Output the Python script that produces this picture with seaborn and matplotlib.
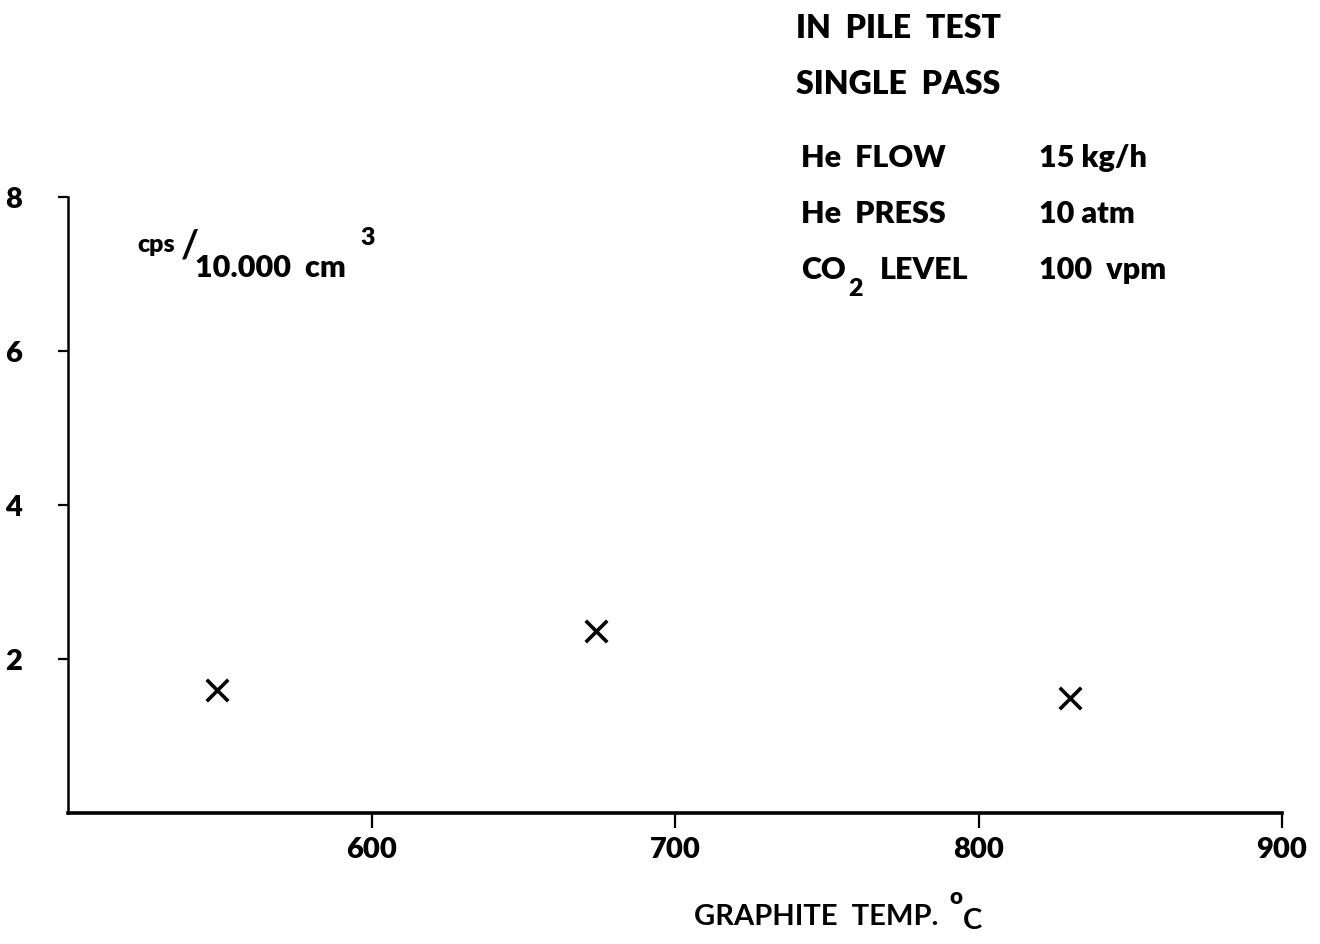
import matplotlib
matplotlib.use('Agg')
import matplotlib.pyplot as plt
import seaborn as sns
import pandas as pd

# values
temp_c = [549, 674, 830]
cps_per_vol = [1.60, 2.37, 1.49]
x_ticks = [600, 700, 800, 900]
y_ticks = [2, 4, 6, 8]

sns.set_style("ticks")
plt.rcParams['font.family'] = ['Lato', 'DejaVu Sans']
plt.rcParams['font.weight'] = 'bold'
plt.rcParams['text.color'] = 'black'

W, H = 1320, 944
fig = plt.figure(figsize=(W / 100, H / 100), dpi=100)
ax = fig.add_axes([68 / W, 1 - 813 / H, (1282 - 68) / W, (813 - 197) / H])

df = pd.DataFrame({"temp": temp_c, "cps": cps_per_vol})
sns.scatterplot(data=df, x="temp", y="cps", marker="x", s=240,
                color="black", linewidth=2.6, ax=ax, legend=False)

ax.set_xlim(500, 900)
ax.set_ylim(0, 8)
ax.set_xticks(x_ticks)
ax.set_yticks(y_ticks)
ax.set_xticklabels([str(v) for v in x_ticks], fontsize=21, fontweight='heavy')
ax.set_yticklabels([str(v) for v in y_ticks], fontsize=21, fontweight='heavy')
ax.tick_params(axis='both', colors='black', labelcolor='black')
ax.tick_params(axis='x', direction='out', length=11, width=1.6, pad=6)
ax.tick_params(axis='y', direction='out', length=7, width=1.6, pad=26)
ax.set_xlabel("")
ax.set_ylabel("")
for side in ["top", "right"]:
    ax.spines[side].set_visible(False)
ax.spines["left"].set_linewidth(1.8)
ax.spines["left"].set_color("black")
ax.spines["bottom"].set_linewidth(2.6)
ax.spines["bottom"].set_color("black")


def ftext(px, py, s, size=22, weight='heavy'):
    fig.text(px / W, 1 - py / H, s, fontsize=size, fontweight=weight,
             va='center', ha='left', color='black')


# unit label inside the plot
ftext(137, 245, "cps", size=18)
ftext(181, 246, "/", size=28, weight='bold')
ftext(195, 268, "10.000  cm", size=22)
ftext(360, 238, "3", size=18)

# x axis label
ftext(694, 917, "GRAPHITE  TEMP.", size=21, weight='bold')
ftext(949, 898, "o", size=16)
ftext(963, 921, "C", size=21, weight='bold')

# condition notes, top right
ftext(796, 28, "IN  PILE  TEST", size=23)
ftext(796, 84, "SINGLE  PASS", size=23)
ftext(801, 158, "He  FLOW")
ftext(1039, 158, "15 kg/h")
ftext(801, 214, "He  PRESS")
ftext(1039, 214, "10 atm")
ftext(801, 270, "CO")
ftext(848, 289, "2", size=18)
ftext(880, 270, "LEVEL")
ftext(1039, 270, "100  vpm")

fig.savefig("out.png", dpi=100, facecolor="white")
